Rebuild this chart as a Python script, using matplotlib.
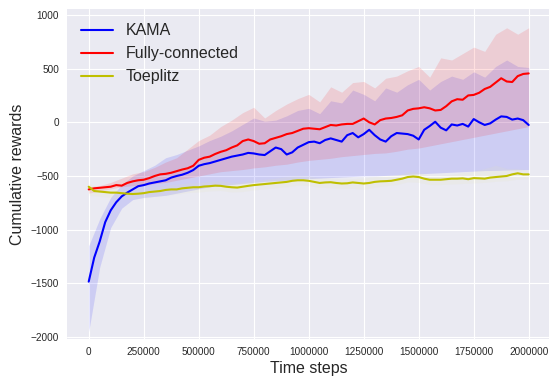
import numpy as np
import matplotlib
matplotlib.use("Agg")
import matplotlib.pyplot as plt

# ── Data (time steps vs cumulative reward) ──
STEPS = np.arange(0, 2000001, 25000)          # line samples, every 25k steps
BAND_STEPS = np.arange(0, 2000001, 50000)     # band samples, every 50k steps

kama = [
    -1484, -1260, -1110, -930, -820, -745, -690, -655, -625, -595,
    -585, -570, -560, -550, -540, -515, -500, -488, -470, -445,
    -405, -390, -380, -365, -350, -335, -320, -310, -300, -285,
    -290, -300, -305, -270, -235, -250, -300, -280, -235, -210,
    -185, -180, -195, -165, -150, -165, -180, -120, -100, -140,
    -110, -70, -120, -160, -180, -130, -100, -105, -110, -125,
    -160, -70, -35, 5, -50, -75, -20, -30, -15, -40,
    30, 0, -25, -10, 25, 55, 50, 25, 35, 20,
    -25,
]
fully_connected = [
    -625, -615, -610, -605, -600, -585, -590, -565, -550, -540,
    -535, -520, -500, -485, -480, -470, -455, -440, -428, -405,
    -350, -330, -320, -295, -275, -260, -235, -215, -175, -160,
    -175, -200, -195, -160, -145, -130, -110, -100, -80, -60,
    -55, -60, -65, -45, -25, -30, -20, -15, -15, 10,
    35, 0, -20, 20, 35, 40, 50, 65, 110, 125,
    130, 140, 130, 110, 115, 150, 195, 215, 210, 250,
    255, 275, 310, 330, 370, 410, 380, 375, 430, 450,
    455,
]
toeplitz = [
    -600, -640, -645, -650, -655, -655, -660, -665, -668, -665,
    -660, -650, -645, -640, -630, -625, -625, -615, -610, -605,
    -605, -598, -595, -590, -592, -600, -605, -608, -600, -592,
    -585, -580, -575, -570, -565, -560, -555, -545, -540, -540,
    -545, -555, -565, -560, -558, -565, -570, -568, -560, -565,
    -570, -565, -555, -550, -548, -545, -535, -525, -510, -505,
    -510, -525, -535, -535, -535, -530, -525, -525, -522, -530,
    -520, -522, -525, -515, -510, -505, -500, -485, -475, -485,
    -485,
]

kama_upper = [
    -1150, -900, -700, -580, -500, -450, -400, -330, -300, -260,
    -220, -170, -130, -80, -20, 40, 10, 20, 60, 110,
    130, 80, 200, 180, 300, 260, 200, 320, 280, 350,
    400, 300, 380, 430, 400, 470, 420, 520, 580, 520,
    510,
]
kama_lower = [
    -1950, -1350, -980, -800, -720, -700, -690, -680, -660, -640,
    -620, -600, -590, -580, -570, -560, -550, -545, -540, -530,
    -525, -520, -515, -510, -505, -500, -500, -495, -490, -485,
    -480, -475, -470, -465, -460, -455, -450, -448, -445, -442,
    -440,
]
fc_upper = [
    -600, -590, -560, -520, -480, -460, -420, -370, -330, -250,
    -170, -120, -40, 20, 90, 140, 40, 110, 170, 220,
    260, 190, 330, 280, 370, 380, 320, 410, 430, 480,
    520, 420, 600, 580, 640, 700, 660, 820, 880, 820,
    880,
]
fc_lower = [
    -660, -640, -620, -600, -590, -590, -570, -560, -540, -520,
    -500, -480, -460, -450, -440, -425, -415, -400, -390, -370,
    -355, -345, -335, -320, -310, -300, -290, -285, -270, -250,
    -240, -220, -200, -180, -160, -140, -120, -100, -80, -60,
    -40,
]
toe_upper = [
    -570, -610, -615, -630, -625, -610, -600, -585, -575, -565,
    -560, -550, -545, -560, -555, -540, -530, -520, -505, -495,
    -500, -520, -520, -525, -525, -520, -505, -500, -490, -460,
    -465, -495, -490, -485, -470, -455, -430, -400, -430, -430,
    -445,
]
toe_lower = [
    -680, -690, -700, -710, -710, -705, -690, -680, -670, -655,
    -650, -640, -635, -650, -645, -630, -620, -610, -600, -585,
    -590, -605, -610, -615, -615, -625, -605, -590, -580, -555,
    -560, -580, -580, -575, -570, -565, -560, -550, -545, -530,
    -525,
]

SERIES = [
    ("KAMA",            kama,            kama_lower, kama_upper, "b", "b"),
    ("Fully-connected", fully_connected, fc_lower,   fc_upper,   "r", "r"),
    ("Toeplitz",        toeplitz,        toe_lower,  toe_upper,  "y", "#e8e8b0"),
]

X_TICKS = [0, 250000, 500000, 750000, 1000000, 1250000, 1500000, 1750000, 2000000]
Y_TICKS = [-2000, -1500, -1000, -500, 0, 500, 1000]

# ── Style ──
plt.style.use("seaborn-v0_8-darkgrid")
plt.rcParams["font.family"] = ["Liberation Sans", "DejaVu Sans"]
TXT = "#262626"

fig = plt.figure(figsize=(5.49, 3.76), dpi=100)
ax = fig.add_axes([0.1215, 0.0984, 0.8816, 0.8777])

for name, ys, lo, hi, lc, fc in SERIES:
    ax.fill_between(BAND_STEPS, lo, hi, color=fc, alpha=0.12, linewidth=0)

for name, ys, lo, hi, lc, fc in SERIES:
    ax.plot(STEPS, ys, color=lc, linewidth=1.5, label=name)

ax.set_xlim(-100000, 2100000)
ax.set_ylim(-2018, 1055)
ax.set_xticks(X_TICKS)
ax.set_yticks(Y_TICKS)
ax.ticklabel_format(style="plain", axis="x")
ax.tick_params(labelsize=7.2, colors=TXT, length=0, pad=5.5)
ax.set_xlabel("Time steps", fontsize=11.5, color=TXT, labelpad=3)
ax.set_ylabel("Cumulative rewards", fontsize=11.5, color=TXT, labelpad=4)

leg = ax.legend(loc="upper left", fontsize=11.5, frameon=False)
for t in leg.get_texts():
    t.set_color(TXT)

fig.savefig("out.png", dpi=100)
